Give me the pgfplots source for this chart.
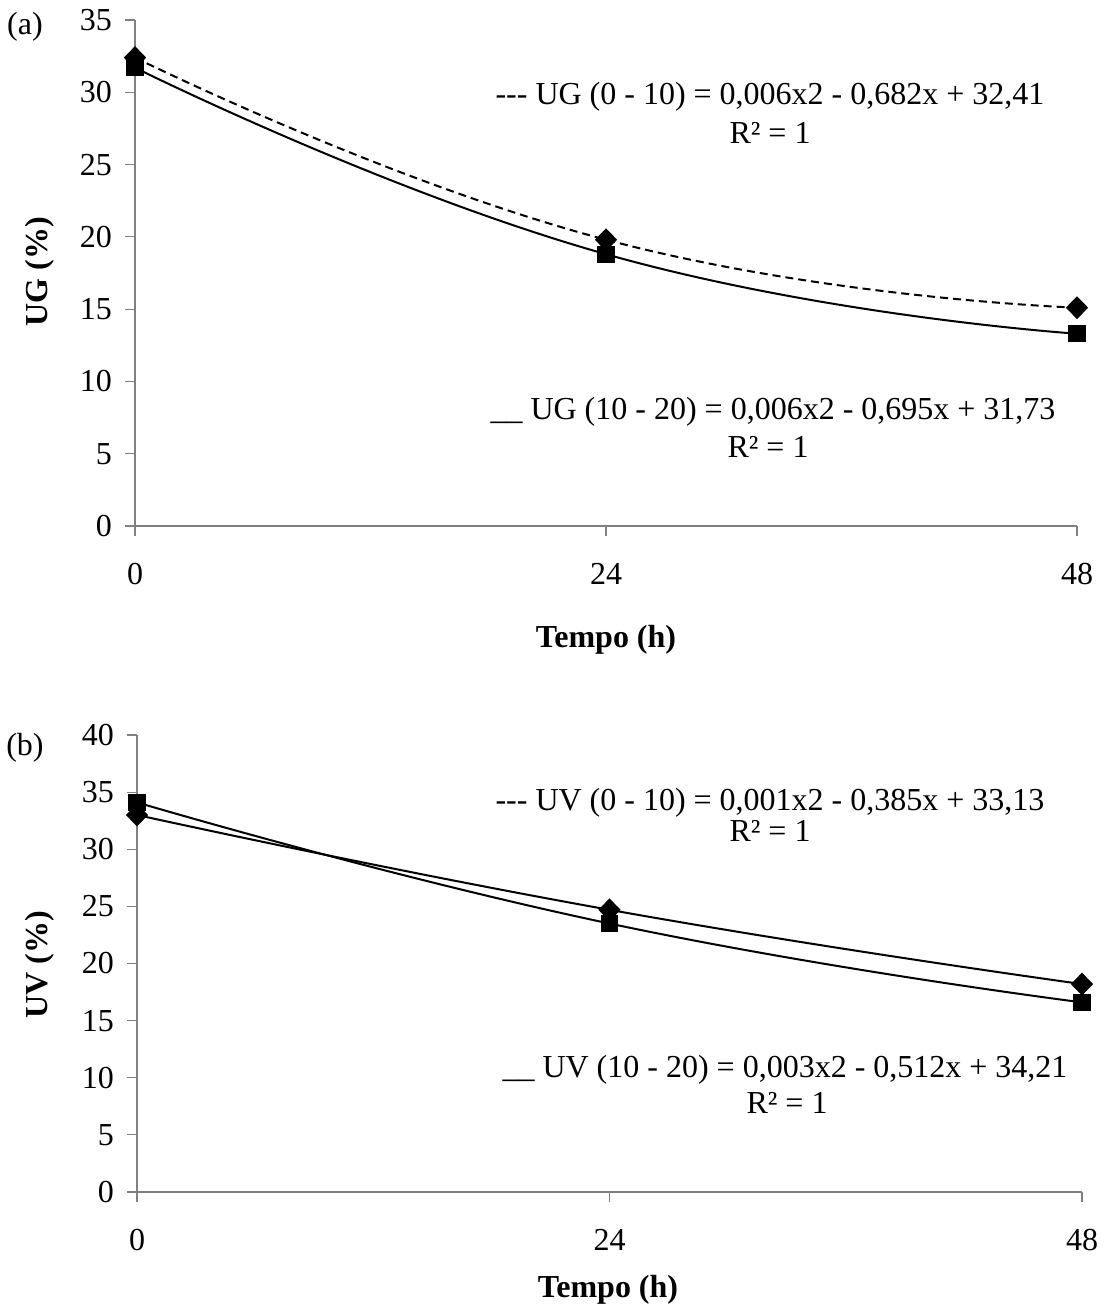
\documentclass[border=0pt]{standalone}
\usepackage{fontspec}
\setmainfont{Liberation Serif}
\usepackage{pgfplots}
\pgfplotsset{compat=1.18}
\definecolor{axgray}{RGB}{128,128,128}
\pgfplotsset{
  myaxis/.style={
    scale only axis,
    axis x line=bottom, axis y line=left,
    axis line style={-, draw=axgray, line width=0.6pt},
    tick style={draw=axgray, line width=0.6pt},
    tick align=outside,
    major tick length=5pt,
    xmin=0, xmax=48, xtick={0,24,48},
    ymin=0,
    /pgf/number format/assume math mode=true,
    ticklabel style={font=\fontsize{16}{19}\selectfont, text=black},
    xticklabel style={yshift=-10pt},
    yticklabel style={xshift=-3pt},
    clip=false,
  },
  dmark/.style={mark=diamond*, mark size=5pt, mark options={solid, xscale=1.3, fill=black}},
  smark/.style={mark=square*, mark size=3.8pt, mark options={solid, fill=black}},
}
\begin{document}
\begin{tikzpicture}[x=0.5pt, y=-0.5pt]
\path (0,0) rectangle (1098,1310);
% ---------- (a)
\begin{axis}[myaxis, at={(67.5pt,-263pt)}, anchor=south west,
  width=471pt, height=253pt, ymax=35, ytick={0,5,...,35}]
\addplot[black, line width=1pt, dashed, dash pattern=on 4pt off 2.5pt, smooth, tension=0.85, dmark] coordinates {(0,32.4) (24,19.8) (48,15.1)};
\addplot[black, line width=1pt, smooth, tension=0.85, smark] coordinates {(0,31.7) (24,18.8) (48,13.3)};
\end{axis}
% ---------- (b)
\begin{axis}[myaxis, at={(68.5pt,-596pt)}, anchor=south west,
  width=472.5pt, height=228.5pt, ymax=40, ytick={0,5,...,40}]
\addplot[black, line width=1pt, smooth, tension=0.85, dmark] coordinates {(0,33.0) (24,24.7) (48,18.2)};
\addplot[black, line width=1pt, smooth, tension=0.85, smark] coordinates {(0,34.1) (24,23.5) (48,16.6)};
\end{axis}
\begin{scope}[every node/.style={font=\fontsize{16}{19}\selectfont, inner sep=0pt}]
\node at (25,27) {(a)};
\node at (25,748) {(b)};
\node[rotate=90, font=\fontsize{16}{19}\selectfont\bfseries] at (40,272) {UG (\%)};
\node[rotate=90, font=\fontsize{16}{19}\selectfont\bfseries] at (40,965) {UV (\%)};
\node[font=\fontsize{16}{19}\selectfont\bfseries] at (606,640) {Tempo (h)};
\node[font=\fontsize{16}{19}\selectfont\bfseries] at (608,1290) {Tempo (h)};
\node at (770,97) {{-}{-}{-} UG (0 - 10) = 0,006x2 - 0,682x + 32,41};
\node at (770,133) {R² = 1};
\node at (773,412) {\_\_ UG (10 - 20) = 0,006x2 - 0,695x + 31,73};
\node at (768,447) {R² = 1};
\node at (770,803) {{-}{-}{-} UV (0 - 10) = 0,001x2 - 0,385x + 33,13};
\node at (770,831) {R² = 1};
\node at (785,1070) {\_\_ UV (10 - 20) = 0,003x2 - 0,512x + 34,21};
\node at (787,1103) {R² = 1};
\end{scope}
\end{tikzpicture}
\end{document}
